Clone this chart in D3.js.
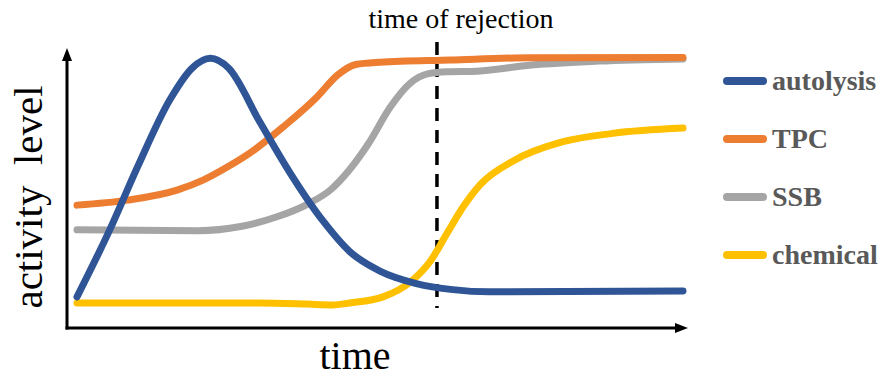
<!DOCTYPE html>
<html>
<head>
<meta charset="utf-8">
<script src="https://cdn.jsdelivr.net/npm/d3@7"></script>
<style>
  body { margin: 0; background: #fff; }
  svg { display: block; }
</style>
</head>
<body>
<svg></svg>
<script>
// values, time 0..100, activity 0..100
const seriesNames = ["autolysis", "TPC", "SSB", "chemical"];
const seriesColors = ["#2f5597", "#ed7d31", "#a5a5a5", "#ffc000"];

const autolysis = [
  [0, 11.2], [5.4, 35.3], [10, 58], [15.3, 82], [19, 93.5], [22, 97],
  [25, 93.5], [30.2, 74], [35.1, 56], [40.6, 38.5], [45, 27.5], [50, 20.5],
  [56, 16], [62, 13.8], [68, 13.0], [100, 13.3]
];
const tpc = [
  [0, 44.2], [8.3, 46.0], [16.5, 49.6], [20.8, 53.2], [24.8, 57.9], [28.5, 62.9],
  [34.0, 72.3], [39.6, 83.1], [43.0, 91.0], [46.0, 94.8], [50, 95.6],
  [61.6, 96.4], [74.8, 97.2], [100, 97.3]
];
const ssb = [
  [0, 35.3], [20, 35.0], [27, 36.5], [33, 40.0], [38, 44.5], [42, 50.0],
  [45, 57.0], [48, 66.0], [51.7, 79.5], [55.0, 88.1], [58, 91.5],
  [61, 92.2], [66, 92.4], [75, 94.6], [86, 96.0], [100, 96.8]
];
const chemical = [
  [0, 9.0], [30, 9.0], [38, 8.6], [42.2, 8.3], [45.0, 9.0], [50.5, 11.2],
  [55.0, 16.5], [58.3, 24.0], [61.1, 34.2], [63.7, 43.5], [66.5, 51.5],
  [71.9, 60.0], [80.2, 67.0], [88.4, 70.0], [100, 71.9]
];
const seriesData = [autolysis, tpc, ssb, chemical];
const rejectionTime = 59.4;

const width = 885, height = 378;

const x = d3.scaleLinear().domain([0, 100]).range([77, 683]);
const y = d3.scaleLinear().domain([0, 100]).range([328, 50]);

const svg = d3.select("svg")
    .attr("width", width)
    .attr("height", height)
    .attr("viewBox", [0, 0, width, height]);

const line = d3.line()
    .curve(d3.curveMonotoneX)
    .x(d => x(d[0]))
    .y(d => y(d[1]));

const serif = "'Liberation Serif', 'Times New Roman', serif";

// rejection marker
svg.append("line")
    .attr("x1", x(rejectionTime)).attr("x2", x(rejectionTime))
    .attr("y1", 42).attr("y2", 308)
    .attr("stroke", "#000")
    .attr("stroke-width", 3.5)
    .attr("stroke-dasharray", "13,9");

svg.append("text")
    .attr("x", x(rejectionTime) + 24)
    .attr("y", 28)
    .attr("text-anchor", "middle")
    .attr("font-family", serif)
    .attr("font-size", 28)
    .attr("fill", "#000")
    .text("time of rejection");

// curves, autolysis drawn last like the picture
const order = [3, 2, 1, 0];
svg.append("g")
  .selectAll("path")
  .data(order)
  .join("path")
    .attr("fill", "none")
    .attr("stroke", i => seriesColors[i])
    .attr("stroke-width", 7)
    .attr("stroke-linecap", "round")
    .attr("stroke-linejoin", "round")
    .attr("d", i => line(seriesData[i]));

// axes with arrow heads
const axX = 67, axY = y(0);
svg.append("line")
    .attr("x1", axX).attr("x2", axX)
    .attr("y1", axY + 1.5).attr("y2", 58)
    .attr("stroke", "#000").attr("stroke-width", 3);
svg.append("line")
    .attr("x1", axX - 1.5).attr("x2", 678)
    .attr("y1", axY).attr("y2", axY)
    .attr("stroke", "#000").attr("stroke-width", 3);
svg.append("path")
    .attr("d", `M${axX},48L${axX - 5},61L${axX + 5},61Z`)
    .attr("fill", "#000");
svg.append("path")
    .attr("d", `M688,${axY}L675,${axY - 5}L675,${axY + 5}Z`)
    .attr("fill", "#000");

// axis titles
svg.append("text")
    .attr("x", 355)
    .attr("y", 369)
    .attr("text-anchor", "middle")
    .attr("font-family", serif)
    .attr("font-size", 40)
    .attr("fill", "#000")
    .text("time");

svg.append("text")
    .attr("transform", "translate(42,197) rotate(-90)")
    .attr("text-anchor", "middle")
    .attr("font-family", serif)
    .attr("font-size", 41)
    .attr("fill", "#000")
    .style("white-space", "pre")
    .text("activity  level");

// legend
const legend = svg.append("g")
  .selectAll("g")
  .data(seriesNames)
  .join("g")
    .attr("transform", (d, i) => `translate(727,${81 + i * 58})`);

legend.append("line")
    .attr("x1", 0).attr("x2", 36)
    .attr("stroke", (d, i) => seriesColors[i])
    .attr("stroke-width", 8)
    .attr("stroke-linecap", "round");

legend.append("text")
    .attr("x", 45)
    .attr("y", 9)
    .attr("font-family", serif)
    .attr("font-weight", "bold")
    .attr("font-size", 28)
    .attr("fill", "#595959")
    .text(d => d);
</script>
</body>
</html>
